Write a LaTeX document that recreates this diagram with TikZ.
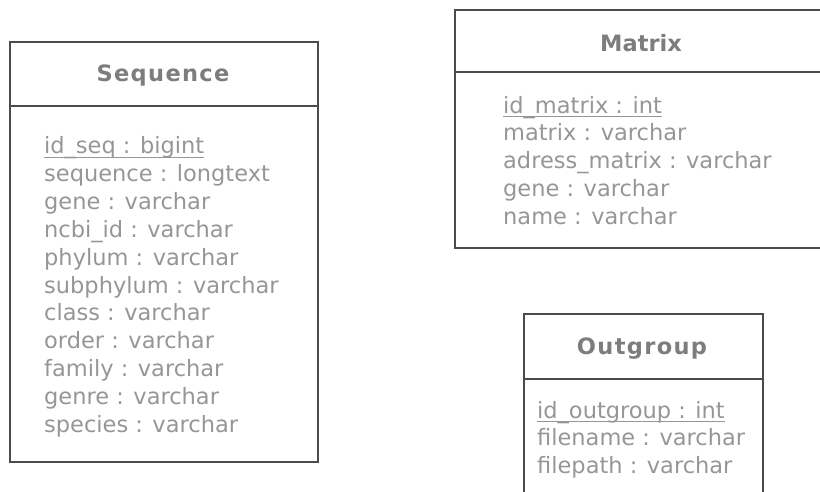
\documentclass[tikz,border=0pt]{standalone}
\usepackage{fontspec}
\setmainfont{DejaVu Sans}
\newfontfamily\spacedbold[LetterSpace=6]{DejaVu Sans Bold}
\definecolor{txt}{RGB}{150,150,150}
\definecolor{ttl}{RGB}{125,125,125}
\definecolor{edge}{RGB}{75,75,75}
\begin{document}
\begin{tikzpicture}[x=1pt,y=-1pt,
  boxline/.style={draw=edge, line width=1.8pt},
  attr/.style={anchor=base west, inner sep=0pt, text=txt, font=\fontsize{22.5}{27}\selectfont},
  ttlnode/.style={anchor=base, inner sep=0pt, text=ttl, font=\fontsize{22.5}{27}\selectfont\bfseries},
  widettl/.style={anchor=base, inner sep=0pt, text=ttl, font=\spacedbold\fontsize{22.5}{27}\selectfont},
  keyline/.style={draw=txt, line width=1pt}]
\useasboundingbox (0,0) rectangle (820,491);
% Sequence
\draw[boxline] (10,42) rectangle (318,462);
\draw[boxline] (10,106) -- (318,106);
\node[widettl] (seqt) at (163,81) {Sequence};
\node[attr] (s0) at (44,153.5) {id\_seq : bigint};
\node[attr] (s1) at (44,181.4) {sequence : longtext};
\node[attr] (s2) at (44,209.3) {gene : varchar};
\node[attr] (s3) at (44,237.2) {ncbi\_id : varchar};
\node[attr] (s4) at (44,265.1) {phylum : varchar};
\node[attr] (s5) at (44,293) {subphylum : varchar};
\node[attr] (s6) at (44,320.9) {class : varchar};
\node[attr] (s7) at (44,348.8) {order : varchar};
\node[attr] (s8) at (44,376.7) {family : varchar};
\node[attr] (s9) at (44,404.6) {genre : varchar};
\node[attr] (s10) at (44,432.5) {species : varchar};
\draw[keyline] ([yshift=-3.5pt]s0.base west) -- ([yshift=-3.5pt]s0.base east);
% Matrix
\draw[boxline] (455,10) rectangle (830,248);
\draw[boxline] (455,72) -- (830,72);
\node[ttlnode] (matt) at (641,51) {Matrix};
\node[attr] (m0) at (503,113) {id\_matrix : int};
\node[attr] (m1) at (503,140.8) {matrix : varchar};
\node[attr] (m2) at (503,168.6) {adress\_matrix : varchar};
\node[attr] (m3) at (503,196.4) {gene : varchar};
\node[attr] (m4) at (503,224.2) {name : varchar};
\draw[keyline] ([yshift=-3.5pt]m0.base west) -- ([yshift=-3.5pt]m0.base east);
% Outgroup
\draw[boxline] (524,314) rectangle (763,500);
\draw[boxline] (524,379) -- (763,379);
\node[widettl] (outt) at (642,354) {Outgroup};
\node[attr] (o0) at (537,418) {id\_outgroup : int};
\node[attr] (o1) at (537,445.5) {filename : varchar};
\node[attr] (o2) at (537,473) {filepath : varchar};
\draw[keyline] ([yshift=-3.5pt]o0.base west) -- ([yshift=-3.5pt]o0.base east);
\end{tikzpicture}
\end{document}
